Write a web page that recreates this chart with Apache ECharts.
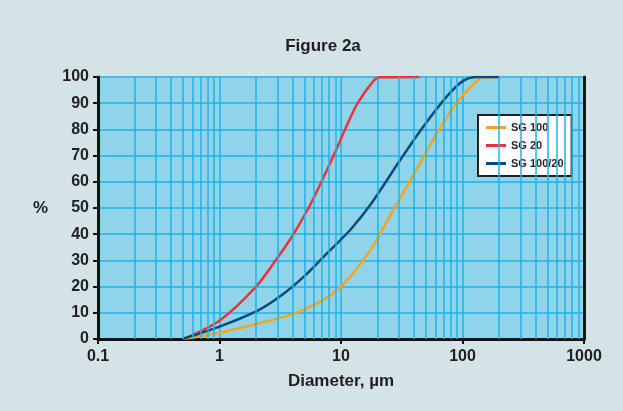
<!DOCTYPE html>
<html>
<head>
<meta charset="utf-8">
<script src="https://cdn.jsdelivr.net/npm/echarts@6/dist/echarts.min.js"></script>
<style>
  html, body { margin: 0; padding: 0; background: #d3e3e6; }
  #chart { width: 623px; height: 411px; }
</style>
</head>
<body>
<div id="chart"></div>
<script>
// particle size distribution
var sg100X = [0.5, 1, 2, 3.8, 6.4, 10, 17.5, 27, 42, 62, 90, 132, 150, 200];
var sg100Y = [0, 2.4, 5.7, 9.2, 13.7, 20, 34, 49.4, 64.8, 78.8, 90.3, 98.6, 99.9, 100];

var sg20X = [0.5, 1, 2, 3, 4, 5.4, 6.9, 8.7, 10.8, 13.6, 18.6, 21, 44];
var sg20Y = [0, 7, 20, 31, 39.5, 50, 60, 70, 80, 89.7, 98.6, 99.9, 100];

var sg10020X = [0.5, 1, 2, 3.2, 5, 7.7, 12, 17.5, 31, 48, 75, 102, 132, 200];
var sg10020Y = [0, 4.7, 10.5, 16.5, 24, 32.8, 41.8, 51.3, 68.6, 81.3, 92.8, 98.6, 100, 100];

var seriesNames = ['SG 100', 'SG 20', 'SG 100/20'];
var colors = ['#f6a41c', '#ee3338', '#0b4a80'];

// minor log gridlines 2..9 in each decade
var decades = [0.1, 1, 10, 100];
var minorSteps = [2, 3, 4, 5, 6, 7, 8, 9];

function pairs(xs, ys) {
    var out = [];
    for (var i = 0; i < xs.length; i++) out.push([xs[i], ys[i]]);
    return out;
}

var minorLines = [];
decades.forEach(function (d) {
    minorSteps.forEach(function (m) {
        minorLines.push({ xAxis: +(d * m).toPrecision(3) });
    });
});

var myChart = echarts.init(document.getElementById('chart'));
var gridColor = '#1db4ea';
var font = 'Liberation Sans';

function curve(i, xs, ys, z) {
    return {
        type: 'line',
        name: seriesNames[i],
        data: pairs(xs, ys),
        smooth: 0.3,
        showSymbol: false,
        itemStyle: { color: colors[i] },
        lineStyle: { width: 2.5, color: colors[i] },
        z: z
    };
}

var option = {
    backgroundColor: '#d3e3e6',
    title: {
        text: 'Figure 2a',
        left: 318,
        top: 33,
        textAlign: 'center',
        textStyle: { fontFamily: font, fontWeight: 'bold', fontSize: 17, color: '#231f20' }
    },
    legend: {
        orient: 'vertical',
        left: 478,
        top: 115,
        backgroundColor: '#fff',
        borderColor: '#231f20',
        borderWidth: 2,
        borderRadius: 0,
        padding: [7, 8, 7, 8],
        itemGap: 7,
        itemWidth: 20,
        itemHeight: 3,
        icon: 'rect',
        data: seriesNames,
        textStyle: { fontFamily: font, fontWeight: 'bold', fontSize: 11, color: '#231f20' }
    },
    grid: {
        left: 98,
        right: 39,
        top: 77,
        bottom: 72,
        show: true,
        backgroundColor: '#8fd4e8',
        borderWidth: 0
    },
    xAxis: {
        type: 'log',
        logBase: 10,
        min: 0.1,
        max: 1000,
        name: 'Diameter, µm',
        nameLocation: 'middle',
        nameGap: 34,
        nameTextStyle: { fontFamily: font, fontWeight: 'bold', fontSize: 17, color: '#231f20' },
        axisLine: { lineStyle: { color: '#111', width: 3 } },
        axisTick: { show: true, length: 5, lineStyle: { color: '#111', width: 2 } },
        axisLabel: {
            fontFamily: font, fontWeight: 'bold', fontSize: 16, color: '#231f20', margin: 10,
            formatter: function (v) { return String(+v.toPrecision(3)); }
        },
        splitLine: { show: true, lineStyle: { color: gridColor, width: 1.5 } }
    },
    yAxis: [{
        type: 'value',
        min: 0,
        max: 100,
        interval: 10,
        name: '%',
        nameLocation: 'middle',
        nameRotate: 0,
        nameGap: 50,
        nameTextStyle: { fontFamily: font, fontWeight: 'bold', fontSize: 17, color: '#231f20' },
        axisLine: { show: true, lineStyle: { color: '#111', width: 3 } },
        axisTick: { show: true, length: 5, lineStyle: { color: '#111', width: 2 } },
        axisLabel: { fontFamily: font, fontWeight: 'bold', fontSize: 16, color: '#231f20', margin: 9 },
        splitLine: { show: true, lineStyle: { color: gridColor, width: 1.5 } }
    }, {
        type: 'value',
        min: 0,
        max: 100,
        position: 'right',
        axisLine: { show: true, lineStyle: { color: '#111', width: 3 } },
        axisTick: { show: false },
        axisLabel: { show: false },
        splitLine: { show: false }
    }],
    series: [{
        type: 'line',
        name: 'minor grid',
        data: [],
        z: 1,
        silent: true,
        markLine: {
            silent: true,
            symbol: ['none', 'none'],
            label: { show: false },
            lineStyle: { color: gridColor, width: 1.5, type: 'solid' },
            data: minorLines,
            animation: false
        }
    },
        curve(0, sg100X, sg100Y, 3),
        curve(1, sg20X, sg20Y, 3),
        curve(2, sg10020X, sg10020Y, 4)
    ],
    animation: false
};
myChart.setOption(option);
</script>
</body>
</html>
